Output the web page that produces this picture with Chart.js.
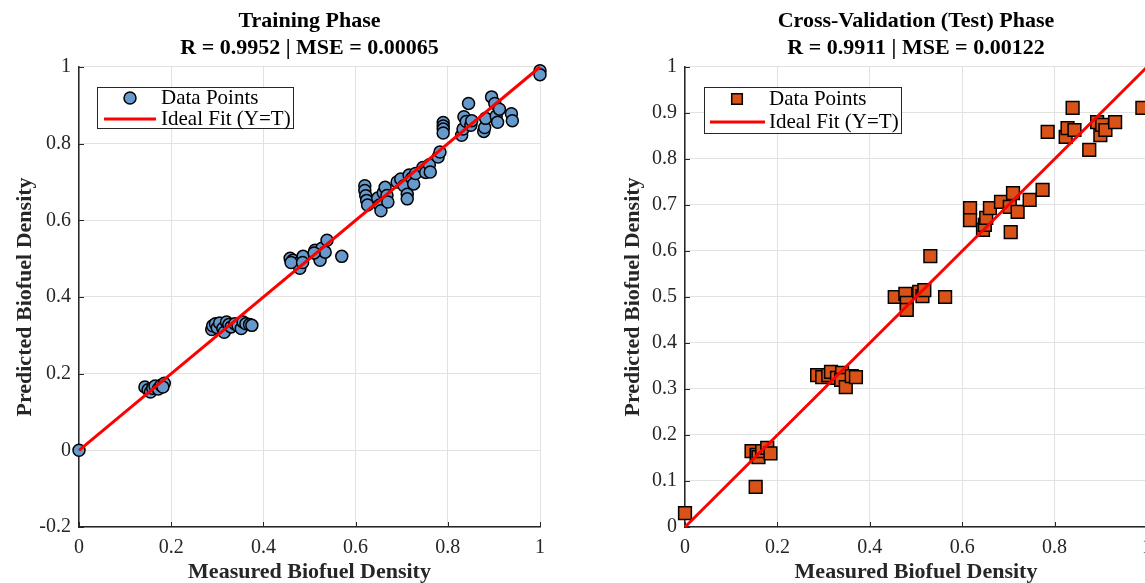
<!DOCTYPE html>
<html>
<head>
<meta charset="utf-8">
<title>Biofuel Density Regression</title>
<script src="https://cdn.jsdelivr.net/npm/chart.js@4.4.0/dist/chart.umd.min.js"></script>
<style>
  html, body {
    margin: 0;
    padding: 0;
    width: 1145px;
    height: 583px;
    overflow: hidden;
    background: #fff;
  }
  canvas {
    position: absolute;
    top: 0;
  }
  #trainChart { left: 0; }
  #testChart { left: 600px; }
</style>
</head>
<body>
<canvas id="trainChart" width="560" height="583"></canvas>
<canvas id="testChart" width="570" height="583"></canvas>

<script>
// TRAINING DATA
const trainMeasured = [
  0.000,
  0.143, 0.150, 0.155, 0.160, 0.165, 0.172, 0.178, 0.185, 0.182,
  0.288, 0.290, 0.296, 0.300, 0.305, 0.312, 0.315, 0.320, 0.325, 0.330, 0.338, 0.345, 0.352, 0.356, 0.362, 0.370, 0.375,
  0.458, 0.464, 0.479, 0.479, 0.486, 0.512, 0.518, 0.523, 0.527, 0.534, 0.538, 0.570, 0.460, 0.485, 0.510,
  0.620, 0.620, 0.622, 0.624, 0.626, 0.648, 0.652, 0.655, 0.660, 0.664, 0.668, 0.670,
  0.690, 0.698, 0.705, 0.712, 0.712, 0.716, 0.722, 0.726, 0.730, 0.746, 0.752, 0.760, 0.762, 0.779, 0.783,
  0.790, 0.790, 0.790, 0.790, 0.830, 0.833, 0.835, 0.840, 0.845, 0.850, 0.852, 0.878, 0.880, 0.882,
  0.895, 0.902, 0.905, 0.908, 0.912, 0.938, 0.940, 1.000, 1.000
];
const trainPredicted = [
  0.000,
  0.165, 0.158, 0.152, 0.162, 0.168, 0.160, 0.170, 0.175, 0.165,
  0.315, 0.325, 0.330, 0.320, 0.332, 0.318, 0.308, 0.335, 0.328, 0.322, 0.330, 0.325, 0.318, 0.335, 0.330, 0.328, 0.326,
  0.501, 0.496, 0.491, 0.475, 0.506, 0.522, 0.509, 0.496, 0.527, 0.517, 0.548, 0.506, 0.490, 0.490, 0.515,
  0.690, 0.678, 0.664, 0.652, 0.640, 0.658, 0.640, 0.625, 0.672, 0.686, 0.665, 0.648,
  0.700, 0.708, 0.690, 0.668, 0.656, 0.718, 0.710, 0.695, 0.722, 0.738, 0.725, 0.745, 0.726, 0.765, 0.778,
  0.855, 0.846, 0.838, 0.828, 0.822, 0.838, 0.870, 0.858, 0.905, 0.848, 0.860, 0.832, 0.842, 0.866,
  0.922, 0.905, 0.872, 0.856, 0.890, 0.878, 0.860, 0.990, 0.980
];

// CROSS-VALIDATION (TEST) DATA
const testMeasured = [
  0.000, 0.153,
  0.144, 0.155, 0.159, 0.167, 0.178, 0.185,
  0.286, 0.297, 0.310, 0.316, 0.329, 0.340, 0.338, 0.348, 0.361, 0.370,
  0.454, 0.477, 0.480, 0.480, 0.507, 0.514, 0.518, 0.531, 0.563,
  0.617, 0.617, 0.645, 0.649, 0.652, 0.660, 0.684, 0.703, 0.705, 0.710, 0.720, 0.746, 0.774,
  0.785, 0.824, 0.828, 0.839, 0.843, 0.875, 0.892, 0.899, 0.903, 0.910, 0.931, 0.990
];
const testPredicted = [
  0.030, 0.087,
  0.165, 0.157, 0.152, 0.165, 0.172, 0.160,
  0.330, 0.326, 0.330, 0.337, 0.324, 0.335, 0.320, 0.304, 0.328, 0.326,
  0.500, 0.507, 0.487, 0.472, 0.511, 0.502, 0.515, 0.589, 0.500,
  0.693, 0.667, 0.646, 0.657, 0.672, 0.693, 0.707, 0.696, 0.641, 0.726, 0.685, 0.711, 0.733,
  0.859, 0.848, 0.867, 0.911, 0.863, 0.820, 0.880, 0.852, 0.874, 0.863, 0.880, 0.911
];

// IDEAL FIT (Y = T)
const idealX = [0, 1];
const idealY = [0, 1];

// TICKS
const xTicks = [0, 0.2, 0.4, 0.6, 0.8, 1];
const xTickLabels = ['0', '0.2', '0.4', '0.6', '0.8', '1'];
const trainYTicks = [-0.2, 0, 0.2, 0.4, 0.6, 0.8, 1];
const trainYTickLabels = ['-0.2', '0', '0.2', '0.4', '0.6', '0.8', '1'];
const testYTicks = [0, 0.1, 0.2, 0.3, 0.4, 0.5, 0.6, 0.7, 0.8, 0.9, 1];
const testYTickLabels = ['0', '0.1', '0.2', '0.3', '0.4', '0.5', '0.6', '0.7', '0.8', '0.9', '1'];

const SERIF = "'Liberation Serif', 'Times New Roman', serif";
const AXIS_COLOR = '#262626';

function toPoints(xs, ys) {
  return xs.map(function(x, i) { return {x: x, y: ys[i]}; });
}

// legend box drawn inside the plot, like MATLAB's
const boxLegend = {
  id: 'boxLegend',
  afterDraw: function(chart, args, opts) {
    const ctx = chart.ctx;
    const points = chart.data.datasets[1];
    const line = chart.data.datasets[0];
    ctx.save();
    ctx.fillStyle = '#fff';
    ctx.fillRect(opts.x, opts.y, opts.w, opts.h);
    ctx.strokeStyle = AXIS_COLOR;
    ctx.lineWidth = 1;
    ctx.strokeRect(opts.x + 0.5, opts.y + 0.5, opts.w, opts.h);

    // marker row
    ctx.fillStyle = points.backgroundColor;
    ctx.strokeStyle = points.borderColor;
    ctx.lineWidth = points.borderWidth;
    Chart.helpers.drawPoint(ctx, {
      pointStyle: points.pointStyle,
      radius: opts.markerRadius,
      rotation: 0,
      borderWidth: points.borderWidth
    }, opts.markerX, opts.row1);

    // line row
    ctx.strokeStyle = line.borderColor;
    ctx.lineWidth = line.borderWidth;
    ctx.beginPath();
    ctx.moveTo(opts.lineX0, opts.row2);
    ctx.lineTo(opts.lineX1, opts.row2);
    ctx.stroke();

    ctx.fillStyle = '#000';
    ctx.font = '21px ' + SERIF;
    ctx.textBaseline = 'middle';
    ctx.textAlign = 'left';
    ctx.fillText(points.label, opts.textX, opts.row1);
    ctx.fillText(line.label, opts.textX, opts.row2);
    ctx.restore();
  }
};

// short tick marks pointing into the plot
const innerTicks = {
  id: 'innerTicks',
  beforeDatasetsDraw: function(chart) {
    const ctx = chart.ctx;
    const area = chart.chartArea;
    const xs = chart.scales.x;
    const ys = chart.scales.y;
    ctx.save();
    ctx.strokeStyle = AXIS_COLOR;
    ctx.lineWidth = 1;
    ctx.beginPath();
    xs.ticks.forEach(function(t) {
      const px = Math.round(xs.getPixelForValue(t.value)) + 0.5;
      ctx.moveTo(px, area.bottom);
      ctx.lineTo(px, area.bottom - 5);
    });
    ys.ticks.forEach(function(t) {
      const py = Math.round(ys.getPixelForValue(t.value)) + 0.5;
      ctx.moveTo(area.left, py);
      ctx.lineTo(area.left + 5, py);
    });
    ctx.stroke();
    ctx.restore();
  }
};

function makeChart(canvasId, cfg) {
  const ctx = document.getElementById(canvasId).getContext('2d');
  return new Chart(ctx, {
    type: 'scatter',
    data: {
      datasets: [{
        label: 'Ideal Fit (Y=T)',
        data: toPoints(idealX, idealY),
        showLine: true,
        borderColor: '#ff0000',
        borderWidth: 3,
        pointRadius: 0,
        clip: false,
        order: 0
      }, {
        label: 'Data Points',
        data: toPoints(cfg.xs, cfg.ys),
        pointStyle: cfg.pointStyle,
        pointRadius: cfg.pointRadius,
        backgroundColor: cfg.color,
        borderColor: '#000',
        borderWidth: 1.5,
        clip: false,
        order: 1
      }]
    },
    options: {
      responsive: false,
      animation: false,
      devicePixelRatio: 1,
      events: [],
      layout: {
        autoPadding: false,
        padding: {left: 0, right: cfg.rightPad, top: 0, bottom: 0}
      },
      plugins: {
        legend: {display: false},
        tooltip: {enabled: false},
        title: {
          display: true,
          text: cfg.title,
          fullSize: false,
          color: '#000',
          font: {family: SERIF, size: 22, weight: 'bold', lineHeight: 1.227},
          padding: {top: 8, bottom: 5}
        },
        boxLegend: cfg.legend
      },
      scales: {
        x: {
          type: 'linear',
          min: 0,
          max: 1,
          afterFit: function(scale) { scale.height = 56; },
          afterBuildTicks: function(scale) {
            scale.ticks = xTicks.map(function(v) { return {value: v}; });
          },
          ticks: {
            padding: 9,
            color: AXIS_COLOR,
            font: {family: SERIF, size: 20},
            callback: function(value, index) { return xTickLabels[index]; }
          },
          grid: {color: '#e2e2e2', lineWidth: 1, drawTicks: false},
          border: {color: AXIS_COLOR, width: 1.5},
          title: {
            display: true,
            text: 'Measured Biofuel Density',
            color: AXIS_COLOR,
            font: {family: SERIF, size: 22, weight: 'bold', lineHeight: 1},
            padding: {top: 0, bottom: 0}
          }
        },
        y: {
          type: 'linear',
          min: cfg.yTicks[0],
          max: cfg.yTicks[cfg.yTicks.length - 1],
          afterFit: function(scale) { scale.width = cfg.yAxisWidth; },
          afterBuildTicks: function(scale) {
            scale.ticks = cfg.yTicks.map(function(v) { return {value: v}; });
          },
          ticks: {
            padding: 8,
            color: AXIS_COLOR,
            font: {family: SERIF, size: 20},
            callback: function(value, index) { return cfg.yTickLabels[index]; }
          },
          grid: {color: '#e2e2e2', lineWidth: 1, drawTicks: false},
          border: {color: AXIS_COLOR, width: 1.5},
          title: {
            display: true,
            text: 'Predicted Biofuel Density',
            color: AXIS_COLOR,
            font: {family: SERIF, size: 22, weight: 'bold', lineHeight: 1},
            padding: {top: cfg.yTitlePad, bottom: 0}
          }
        }
      }
    },
    plugins: [innerTicks, boxLegend]
  });
}

makeChart('trainChart', {
  title: ['Training Phase', 'R = 0.9952 | MSE = 0.00065'],
  xs: trainMeasured,
  ys: trainPredicted,
  pointStyle: 'circle',
  pointRadius: 6,
  color: '#6699cc',
  yTicks: trainYTicks,
  yTickLabels: trainYTickLabels,
  yAxisWidth: 79,
  yTitlePad: 14,
  rightPad: 20,
  legend: {x: 97, y: 87, w: 196, h: 41, row1: 98, row2: 119, markerX: 130, markerRadius: 6,
           lineX0: 104, lineX1: 156, textX: 161}
});

makeChart('testChart', {
  title: ['Cross-Validation (Test) Phase', 'R = 0.9911 | MSE = 0.00122'],
  xs: testMeasured,
  ys: testPredicted,
  pointStyle: 'rect',
  pointRadius: 9,
  color: '#d95319',
  yTicks: testYTicks,
  yTickLabels: testYTickLabels,
  yAxisWidth: 85,
  yTitlePad: 22,
  rightPad: 23,
  legend: {x: 104, y: 87, w: 197, h: 46, row1: 99, row2: 122, markerX: 137, markerRadius: 7.5,
           lineX0: 110, lineX1: 165, textX: 169}
});
</script>
</body>
</html>
